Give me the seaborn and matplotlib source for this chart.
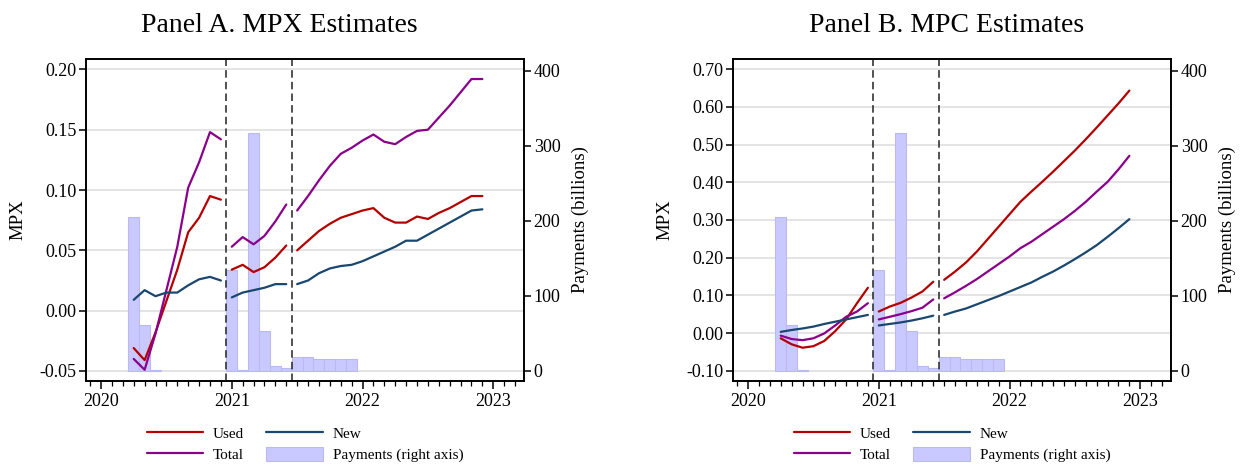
import numpy as np
import pandas as pd
import matplotlib
matplotlib.use("Agg")
import matplotlib.pyplot as plt
import seaborn as sns
from matplotlib.lines import Line2D
from matplotlib.patches import Patch
from matplotlib.ticker import MultipleLocator, FixedLocator, FuncFormatter

# ---------------- data ----------------
months = pd.period_range("2020-04", "2022-12", freq="M")
segments = [1] * 9 + [2] * 6 + [3] * 18

mpx_used = [-0.031, -0.041, -0.018, 0.008, 0.034, 0.065, 0.077, 0.095, 0.092,
            0.034, 0.038, 0.032, 0.036, 0.044, 0.054,
            0.050, 0.058, 0.066, 0.072, 0.077, 0.080, 0.083, 0.085, 0.077,
            0.073, 0.073, 0.078, 0.076, 0.081, 0.085, 0.090, 0.095, 0.095]
mpx_total = [-0.040, -0.049, -0.019, 0.017, 0.053, 0.102, 0.123, 0.148, 0.142,
             0.053, 0.061, 0.055, 0.062, 0.074, 0.088,
             0.083, 0.095, 0.108, 0.120, 0.130, 0.135, 0.141, 0.146, 0.140,
             0.138, 0.144, 0.149, 0.150, 0.160, 0.170, 0.181, 0.192, 0.192]
mpx_new = [0.009, 0.017, 0.012, 0.015, 0.015, 0.021, 0.026, 0.028, 0.025,
           0.011, 0.015, 0.017, 0.019, 0.022, 0.022,
           0.022, 0.025, 0.031, 0.035, 0.037, 0.038, 0.041, 0.045, 0.049,
           0.053, 0.058, 0.058, 0.063, 0.068, 0.073, 0.078, 0.083, 0.084]

mpc_used = [-0.014, -0.030, -0.039, -0.035, -0.021, 0.005, 0.036, 0.079, 0.120,
            0.057, 0.070, 0.080, 0.094, 0.110, 0.136,
            0.141, 0.163, 0.187, 0.216, 0.249, 0.282, 0.315, 0.348, 0.375,
            0.401, 0.428, 0.456, 0.484, 0.514, 0.545, 0.577, 0.609, 0.643]
mpc_total = [-0.007, -0.016, -0.019, -0.014, -0.001, 0.020, 0.043, 0.057, 0.079,
             0.036, 0.043, 0.050, 0.058, 0.067, 0.089,
             0.092, 0.108, 0.125, 0.143, 0.163, 0.183, 0.203, 0.225, 0.242,
             0.262, 0.282, 0.302, 0.324, 0.348, 0.375, 0.401, 0.434, 0.470]
mpc_new = [0.003, 0.008, 0.012, 0.017, 0.024, 0.030, 0.036, 0.042, 0.048,
           0.020, 0.024, 0.028, 0.033, 0.039, 0.046,
           0.048, 0.057, 0.065, 0.076, 0.087, 0.098, 0.110, 0.122, 0.134,
           0.149, 0.163, 0.179, 0.196, 0.214, 0.233, 0.255, 0.278, 0.302]

pay_months = ["2020-04", "2020-05", "2020-06", "2021-01", "2021-02", "2021-03",
              "2021-04", "2021-05", "2021-06", "2021-07", "2021-08", "2021-09",
              "2021-10", "2021-11", "2021-12"]
payments = [205, 61, 1, 134, 1, 317, 53, 7, 4, 18, 18, 16, 16, 16, 16]

break_dates = [2020 + 11.5 / 12, 2021 + 5.5 / 12]
year_ticks = [2020, 2021, 2022, 2023]
yticks_A = [-0.05, 0.00, 0.05, 0.10, 0.15, 0.20]
yticks_B = [-0.10, 0.00, 0.10, 0.20, 0.30, 0.40, 0.50, 0.60, 0.70]
yticks_right = [0, 100, 200, 300, 400]

series_names = ["Used", "Total", "New"]
colors = {"Used": "#b40000", "Total": "#8b008b", "New": "#1a476f"}
bar_color = "#c9c9ff"

# ---------------- style ----------------
sns.set_style("ticks")
plt.rcParams["font.family"] = ["Liberation Serif", "DejaVu Serif"]
plt.rcParams.update({
    "axes.edgecolor": "black", "text.color": "black",
    "axes.labelcolor": "black", "xtick.color": "black", "ytick.color": "black",
})


def dec_year(periods):
    return np.array([p.year + (p.month - 1) / 12 for p in periods])


t_all = dec_year(months)
t_pay = dec_year(pd.PeriodIndex(pay_months, freq="M"))


def long_df(used, total, new):
    frames = []
    for name, vals in zip(series_names, [used, total, new]):
        frames.append(pd.DataFrame({"t": t_all, "value": vals,
                                    "series": name, "seg": segments}))
    return pd.concat(frames, ignore_index=True)


W, H = 1241, 468
fig = plt.figure(figsize=(W / 100, H / 100), dpi=100)

panels = [
    dict(left=86, df=long_df(mpx_used, mpx_total, mpx_new), yticks=yticks_A,
         ylim=(-0.0583, 0.2086), title="Panel A. MPX Estimates", tx=279.5),
    dict(left=733, df=long_df(mpc_used, mpc_total, mpc_new), yticks=yticks_B,
         ylim=(-0.1273, 0.7268), title="Panel B. MPC Estimates", tx=947),
]
ylim_right = (-13.65, 415.5)
xlim = (2019.885, 2023.235)

for p in panels:
    ax = fig.add_axes([p["left"] / W, 1 - 381 / H, 438 / W, 322 / H])
    ax2 = ax.twinx()
    ax.set_zorder(ax2.get_zorder() + 1)
    ax.patch.set_visible(False)

    # bars (right axis)
    ax2.bar(t_pay, payments, width=1 / 12, color=bar_color,
            edgecolor="#babaf3", linewidth=0.8, zorder=2)
    ax2.set_ylim(*ylim_right)
    ax2.set_yticks(yticks_right)
    ax2.set_ylabel("Payments (billions)", fontsize=13.5, labelpad=8)

    # grid under bars, aligned with left ticks
    lo1, hi1 = p["ylim"]
    lo2, hi2 = ylim_right
    gpos = [lo2 + (v - lo1) / (hi1 - lo1) * (hi2 - lo2) for v in p["yticks"]]
    ax2.yaxis.set_minor_locator(FixedLocator(gpos))
    ax2.tick_params(axis="y", which="minor", length=0)
    ax2.grid(which="minor", axis="y", color="#e2e2e2", linewidth=1.3)
    ax2.grid(which="major", visible=False)
    ax2.set_axisbelow(True)

    # lines (left axis)
    sns.lineplot(data=p["df"], x="t", y="value", hue="series", units="seg",
                 estimator=None, palette=colors, hue_order=series_names,
                 linewidth=1.6, legend=False, ax=ax, sort=True)
    for b in break_dates:
        ax.axvline(b, color="#333333", linestyle=(0, (4.5, 2.5)), linewidth=1.2,
                   zorder=1)

    ax.set_xlim(*xlim)
    ax.set_ylim(*p["ylim"])
    ax.set_yticks(p["yticks"])
    ax.yaxis.set_major_formatter(FuncFormatter(lambda v, _: f"{v:.2f}"))
    ax.set_xticks(year_ticks)
    ax.set_xticklabels([str(y) for y in year_ticks])
    ax.xaxis.set_minor_locator(MultipleLocator(1 / 12))
    ax.set_xlabel("")
    ax.set_ylabel("MPX", fontsize=13.5, labelpad=9)
    ax.grid(False)

    ax.tick_params(axis="x", which="major", direction="out", length=6,
                   width=1.1, labelsize=13, pad=3)
    ax.tick_params(axis="x", which="minor", direction="out", length=3.5,
                   width=0.9)
    ax.tick_params(axis="y", direction="out", length=5, width=1.1,
                   labelsize=13, pad=2)
    ax2.tick_params(axis="y", which="major", direction="out", length=5,
                    width=1.1, labelsize=13, pad=2)
    for a in (ax, ax2):
        for s in a.spines.values():
            s.set_visible(True)
            s.set_linewidth(1.2)
            s.set_color("black")

    handles = [Line2D([], [], color=colors["Used"], lw=1.6),
               Line2D([], [], color=colors["Total"], lw=1.6),
               Line2D([], [], color=colors["New"], lw=1.6),
               Patch(facecolor=bar_color, edgecolor="#babaf3", linewidth=0.8)]
    labels = ["Used", "Total", "New", "Payments (right axis)"]
    ax.legend(handles, labels, loc="center", bbox_to_anchor=(0.5, -0.196),
              ncol=2, frameon=False, fontsize=11, handlelength=3.7,
              handletextpad=0.65, columnspacing=1.45, labelspacing=0.4,
              handleheight=1.0)

    fig.text(p["tx"] / W, 1 - 32 / H, p["title"], ha="center", va="baseline",
             fontsize=20)

fig.savefig("out.png", dpi=100)
